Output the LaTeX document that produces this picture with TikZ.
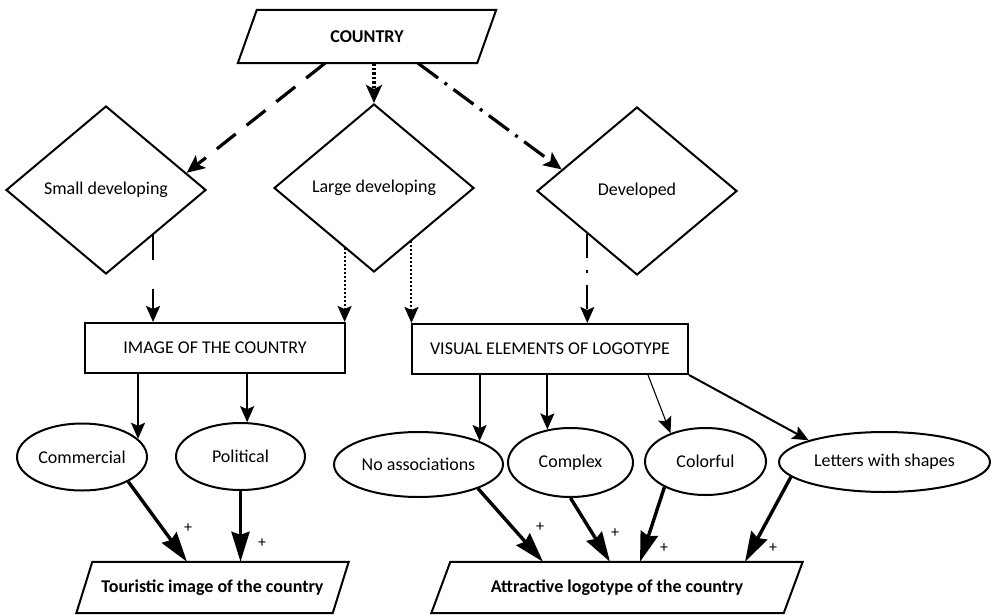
\documentclass[tikz,border=0pt]{standalone}
\usepackage{fontspec}
\setmainfont{Carlito}
\usetikzlibrary{shapes.geometric,arrows.meta,calc}

% text of fixed width zero, so ellipses keep their given size
\newcommand{\ctext}[1]{\makebox[0pt]{#1}}
% slanted outline drawn round an invisible rectangle node
\newcommand{\slantoutline}[2]{%
  \draw[outline] ([xshift=#2]#1.north west) -- ([xshift=#2]#1.north east)
    -- ([xshift=-#2]#1.south east) -- ([xshift=-#2]#1.south west) -- cycle;}

\tikzset{
  every node/.style={font=\fontsize{18}{21}\selectfont, text=black},
  outline/.style={draw=black, line width=2pt, line join=miter},
  decision/.style={diamond, outline, minimum width=200pt, minimum height=168pt, inner sep=0pt},
  stage/.style={rectangle, outline, minimum width=#1, minimum height=50pt, inner sep=0pt},
  oval/.style={ellipse, outline, inner sep=0pt},
  slanted/.style={rectangle, minimum height=51pt, inner sep=0pt,
    font=\fontsize{18}{21}\selectfont\bfseries},
  plus/.style={font=\fontsize{16}{18}\selectfont, inner sep=0pt},
  thinarrow/.style={line width=2pt, -{Stealth[length=16pt,width=14pt,inset=3pt]}},
  slimarrow/.style={line width=1.1pt, -{Stealth[length=16pt,width=14pt,inset=3pt]}},
  heavy/.style={line width=3.4pt, -{Stealth[length=30pt,width=18pt,inset=3pt]}},
  toparrow/.style={line width=3.2pt, -{Stealth[length=18pt,width=16pt,inset=4pt]}},
  topdash/.style={toparrow, dash pattern=on 24pt off 14pt},
  topdot/.style={toparrow, dash pattern=on 2.5pt off 2pt},
  topdashdot/.style={toparrow, dash pattern=on 25pt off 8pt on 3pt off 8pt},
  longdash/.style={thinarrow, dash pattern=on 25pt off 29pt},
  thindot/.style={thinarrow, dash pattern=on 2pt off 2pt},
  thindashdot/.style={thinarrow, dash pattern=on 24pt off 12pt on 3pt off 12pt},
}

\begin{document}
\begin{tikzpicture}[x=1pt,y=-1pt]
\useasboundingbox (0,0) rectangle (991,616);

% top input
\node[slanted, minimum width=239pt, minimum height=53pt] (country) at (367,36.5) {COUNTRY};
\slantoutline{country}{9.5pt}

% country types
\node[decision] (small) at (106,190) {Small developing};
\node[decision] (large) at (374,188) {Large developing};
\node[decision] (dev)   at (637,191) {Developed};

% intermediate stages
\node[stage=260pt] (image)  at (215,348) {IMAGE OF THE COUNTRY};
\node[stage=276pt] (visual) at (550,349) {VISUAL ELEMENTS OF LOGOTYPE};

% factors
\node[oval, minimum width=130pt, minimum height=67pt] (comm)     at (82,457)    {\ctext{Commercial}};
\node[oval, minimum width=129pt, minimum height=67pt] (pol)      at (240.5,456.5) {\ctext{Political}};
\node[oval, minimum width=169pt, minimum height=65pt] (noassoc)  at (418.5,464.5) {\ctext{No associations}};
\node[oval, minimum width=125pt, minimum height=69pt] (complex)  at (570.5,462.5) {\ctext{Complex}};
\node[oval, minimum width=121pt, minimum height=67pt] (colorful) at (705.5,461.5) {\ctext{Colorful}};
\node[oval, minimum width=211pt, minimum height=60pt] (letters)  at (884.5,462)   {\ctext{Letters with shapes}};

% outcomes
\node[slanted, minimum width=256pt] (tour) at (212.5,587.5) {Touristic image of the country};
\slantoutline{tour}{8pt}
\node[slanted, minimum width=352pt] (attr) at (617,587.5) {Attractive logotype of the country};
\slantoutline{attr}{9.5pt}

% country -> types
\draw[topdash]    ([xshift=-42pt]country.south) -- (small.12.8);
\draw[topdot]     (large.north |- country.south) -- (large.north);
\draw[topdashdot] ([xshift=51pt]country.south) -- (dev.164);

% types -> stages
\draw[longdash]    (small.316.6) -- (small.316.6 |- image.north);
\draw[thindot]     (large.244.2) -- (large.244.2 |- image.north);
\draw[thindot]     (large.305.8) -- (large.305.8 |- visual.north);
\draw[thindashdot] (dev.221.1) -- (dev.221.1 |- visual.north);

% stages -> factors
\draw[thinarrow] (comm.18 |- image.south) -- (comm.18);
\draw[thinarrow] (pol.79 |- image.south) -- (pol.79);
\draw[thinarrow] (noassoc.21.9 |- visual.south) -- (noassoc.21.9);
\draw[thinarrow] (complex.125 |- visual.south) -- (complex.125);
\draw[slimarrow] ([xshift=98pt]visual.south) -- (colorful.141.4);
\draw[thinarrow] (visual.south east) -- (letters.164);

% factors -> outcomes
\draw[heavy] (comm.332.5) -- ([xshift=-25.5pt]tour.north);
\draw[heavy] (pol.south) -- (pol.south |- tour.north);
\draw[heavy] (noassoc.338.5) -- ([xshift=-74pt]attr.north);
\draw[heavy] (complex.south) -- ([xshift=-7pt]attr.north);
\draw[heavy] (colorful.212) -- ([xshift=23pt]attr.north);
\draw[heavy] (letters.189) -- ([xshift=128pt]attr.north);

% signs
\node[plus] (p1) at (188,528) {+};
\node[plus] (p2) at (262,543) {+};
\node[plus] (p3) at (540,527) {+};
\node[plus] (p4) at (615,533) {+};
\node[plus] (p5) at (664,548) {+};
\node[plus] (p6) at (773,548) {+};
\end{tikzpicture}
\end{document}
